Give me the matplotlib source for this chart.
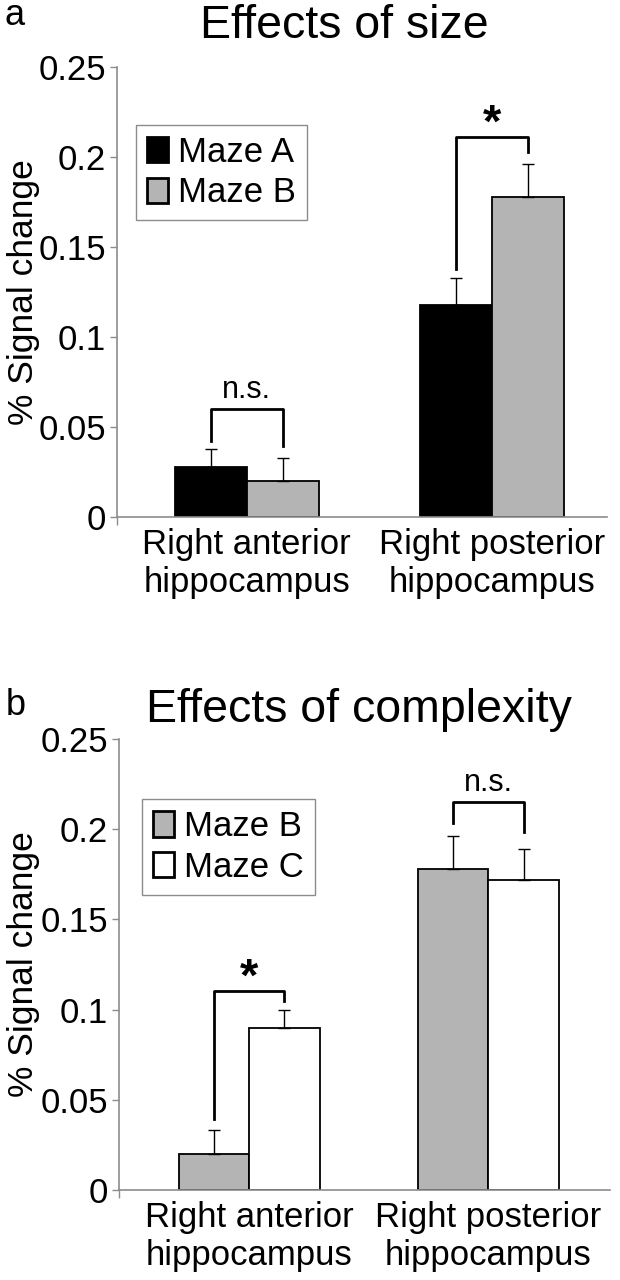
import numpy as np
import matplotlib
matplotlib.use('Agg')
import matplotlib.pyplot as plt

plt.rcParams['font.family'] = ['Liberation Sans', 'DejaVu Sans']

#------------------------------------------------------------------------------
# data (% signal change)
regions = ['Right anterior\nhippocampus', 'Right posterior\nhippocampus']

# panel a : effects of size
size_A     = [0.028, 0.118]
size_A_err = [0.010, 0.015]
size_B     = [0.020, 0.178]
size_B_err = [0.013, 0.018]

# panel b : effects of complexity
cplx_B     = [0.020, 0.178]
cplx_B_err = [0.013, 0.018]
cplx_C     = [0.090, 0.172]
cplx_C_err = [0.010, 0.017]

# brackets: (region, top, left leg end, right leg end, label)
brackets_a = [(0, 0.060, 0.0425, 0.0395, 'n.s.'),
              (1, 0.211, 0.138, 0.203, '*')]
brackets_b = [(0, 0.1105, 0.0395, 0.105, '*'),
              (1, 0.215, 0.2035, 0.1985, 'n.s.')]

yticks = [0, 0.05, 0.1, 0.15, 0.2, 0.25]
ytick_labels = ['0', '0.05', '0.1', '0.15', '0.2', '0.25']

# styles
col_A = 'black'
col_B = '#b4b4b4'
col_C = 'white'
bw = 0.295
axcol = '#8c8c8c'
fs = 25


def panel(ax, v1, e1, v2, e2, c1, c2, lab1, lab2, brackets, xlim, leg_anchor):
    x = np.arange(len(regions))
    ax.bar(x - bw/2, v1, bw, color=c1, edgecolor='black', linewidth=1.3,
           label=lab1, zorder=2)
    ax.bar(x + bw/2, v2, bw, color=c2, edgecolor='black', linewidth=1.3,
           label=lab2, zorder=2)
    ax.errorbar(x - bw/2, v1, yerr=[np.zeros(len(v1)), e1], fmt='none',
                ecolor='black', elinewidth=1, capsize=4, capthick=1, zorder=3)
    ax.errorbar(x + bw/2, v2, yerr=[np.zeros(len(v2)), e2], fmt='none',
                ecolor='black', elinewidth=1, capsize=4, capthick=1, zorder=3)

    # significance brackets
    for i, top, yl, yr, txt in brackets:
        xl = i - bw/2
        xr = i + bw/2
        ax.plot([xl, xl, xr, xr], [yl, top, top, yr], color='black',
                linewidth=2, solid_joinstyle='round', zorder=4)
        if txt == '*':
            ax.text(i, top, '*', ha='center', va='baseline', fontsize=34,
                    fontweight='bold')
        else:
            ax.text(i, top + 0.0062, txt, ha='center', va='baseline',
                    fontsize=22)

    ax.set_xlim(xlim)
    ax.set_ylim(0, 0.25)
    ax.set_yticks(yticks)
    ax.set_yticklabels(ytick_labels, fontsize=fs)
    ax.set_xticks(x)
    ax.set_xticklabels(regions, fontsize=fs)
    ax.set_xticks([xlim[0]], minor=True)
    ax.tick_params(axis='x', which='major', length=0, pad=8)
    ax.tick_params(axis='x', which='minor', length=6, color=axcol, width=1)
    ax.tick_params(axis='y', length=5, color=axcol, width=1, pad=3)
    for s in ['top', 'right']:
        ax.spines[s].set_visible(False)
    for s in ['left', 'bottom']:
        ax.spines[s].set_color(axcol)
        ax.spines[s].set_linewidth(1.2)
    ax.set_ylabel('% Signal change', fontsize=25.5)
    # keep the label just inside the left edge
    ax.yaxis.set_label_coords(-(ax.get_position().x0*620 - 40)/
                              (ax.get_position().width*620), 0.5)

    leg = ax.legend(loc='upper left', bbox_to_anchor=leg_anchor,
                    borderaxespad=0, fontsize=fs, fancybox=False,
                    edgecolor=axcol, framealpha=1, handlelength=0.6,
                    handleheight=0.75, handletextpad=0.3, labelspacing=0.22,
                    borderpad=0.32)
    leg.get_frame().set_linewidth(1)
    for h in leg.legend_handles:
        h.set_linewidth(2)


fig = plt.figure(figsize=(6.2, 12.8), dpi=100)

ax1 = fig.add_axes([117/620, 1-517/1280, 490/620, 450/1280])
panel(ax1, size_A, size_A_err, size_B, size_B_err, col_A, col_B,
      'Maze A', 'Maze B', brackets_a, (-0.53, 1.47), (0.039, 0.872))

ax2 = fig.add_axes([119/620, 1-1190/1280, 491/620, 451/1280])
panel(ax2, cplx_B, cplx_B_err, cplx_C, cplx_C_err, col_B, col_C,
      'Maze B', 'Maze C', brackets_b, (-0.544, 1.509), (0.047, 0.867))

# titles and panel letters
fig.text(344/620, 1-38/1280, 'Effects of size', ha='center', va='baseline',
         fontsize=33.5)
fig.text(359/620, 1-722/1280, 'Effects of complexity', ha='center',
         va='baseline', fontsize=33.5)
fig.text(4/620, 1-25/1280, 'a', ha='left', va='baseline', fontsize=26)
fig.text(6/620, 1-715/1280, 'b', ha='left', va='baseline', fontsize=26)

fig.savefig('out.png', dpi=100)
